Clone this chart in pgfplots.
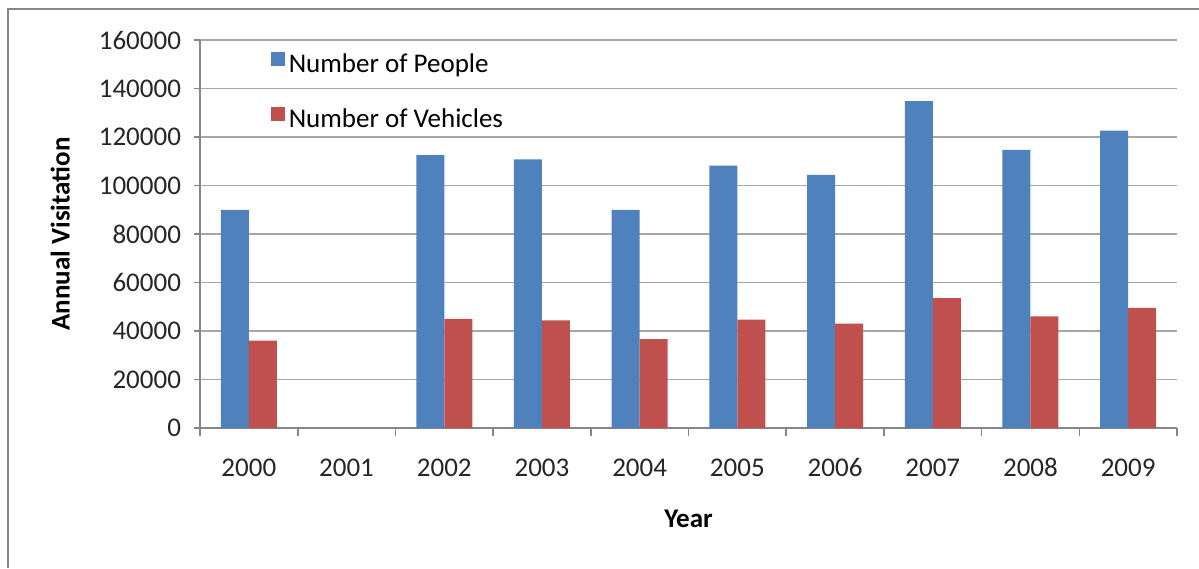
\documentclass[border=0pt]{standalone}
\usepackage{pgfplots}
\pgfplotsset{compat=1.18}
\usepackage{fontspec}
\setmainfont{Carlito}
\definecolor{peopleblue}{HTML}{4F81BD}
\definecolor{vehred}{HTML}{C0504D}
\definecolor{gridgray}{HTML}{A6A6A6}
\definecolor{axisgray}{HTML}{868686}

\begin{document}
\begin{tikzpicture}
\path[use as bounding box] (0,0) rectangle (599.5pt,284pt);
\draw[axisgray, line width=1pt] (4pt,0) -- (4pt,279.5pt) -- (599.5pt,279.5pt);
\begin{axis}[
    at={(100pt,70pt)}, anchor=south west,
    scale only axis, width=488.5pt, height=194pt,
    ybar=0pt, bar width=14pt,
    xmin=-0.5, xmax=9.5, ymin=0, ymax=160000,
    xtick={0,...,9},
    xticklabels={2000,2001,2002,2003,2004,2005,2006,2007,2008,2009},
    minor xtick={-0.5,0.5,...,9.5},
    major x tick style={draw=none},
    ytick={0,20000,...,160000},
    scaled y ticks=false,
    /pgf/number format/fixed,
    /pgf/number format/1000 sep={},
    /pgf/number format/assume math mode=true,
    axis lines*=left,
    axis line style={axisgray, line width=0.8pt},
    tick style={axisgray, line width=0.8pt},
    tick align=outside,
    major tick length=3pt, minor tick length=4pt,
    ymajorgrids,
    grid style={gridgray, line width=0.7pt},
    tick label style={font=\fontsize{13.5}{16}\selectfont, text=black!85},
    xticklabel style={yshift=-10pt, text height=1.6ex, text depth=0pt},
    yticklabel style={xshift=-3pt},
    ylabel={\textbf{Annual Visitation}},
    xlabel={\textbf{Year}},
    label style={font=\fontsize{13.5}{16}\selectfont},
    ylabel style={at={(axis description cs:-0.143,0.5)}, anchor=center},
    xlabel style={yshift=-10pt},
    legend style={
        at={(rel axis cs:0.072,0.975)}, anchor=north west,
        draw=none, fill=none, inner sep=0pt,
        font=\fontsize{13.5}{16}\selectfont,
        row sep=12.5pt,
        legend cell align=left,
    },
    legend image code/.code={\fill[#1] (0pt,-0.5pt) rectangle (7pt,6.5pt);},
]
\addplot[fill=peopleblue, draw=none] coordinates {
    (0,90000) (2,112500) (3,110800) (4,90000) (5,108200)
    (6,104400) (7,134800) (8,114700) (9,122600)
};
\addplot[fill=vehred, draw=none] coordinates {
    (0,36000) (2,45000) (3,44400) (4,36700) (5,44700)
    (6,43000) (7,53600) (8,46000) (9,49500)
};
\legend{Number of People, Number of Vehicles}
\end{axis}
\end{tikzpicture}
\end{document}
